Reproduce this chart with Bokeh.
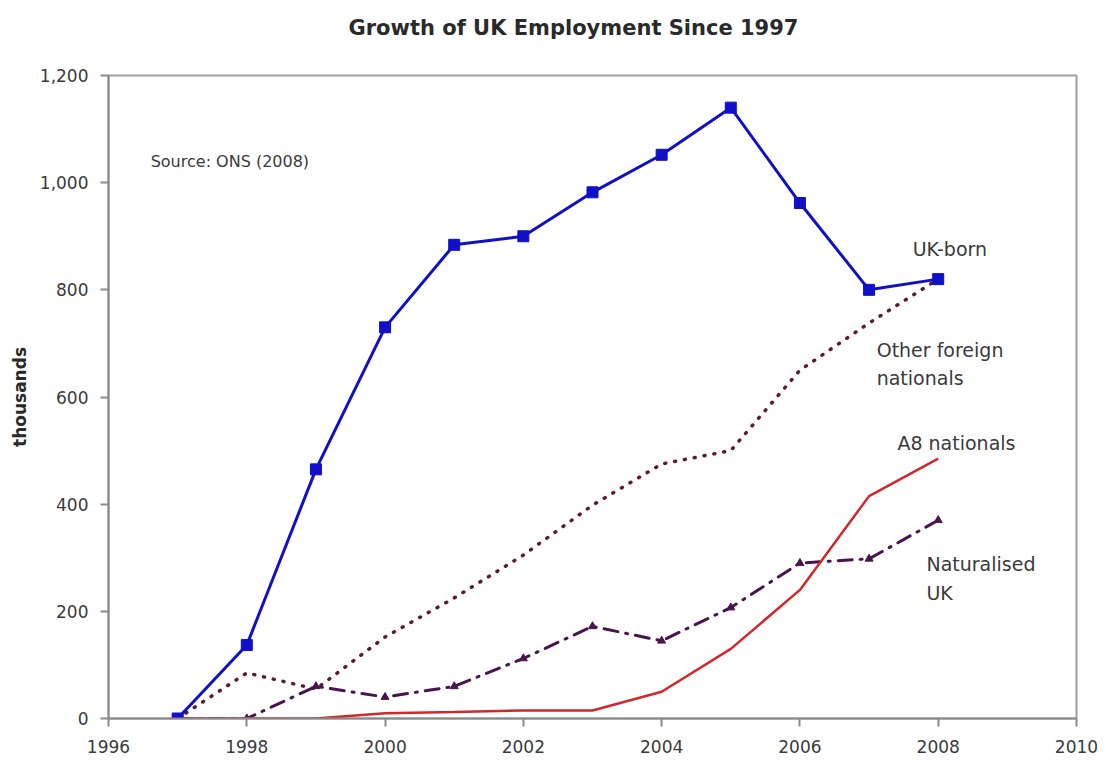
from bokeh.plotting import figure
from bokeh.models import Range1d, Label, FixedTicker, NumeralTickFormatter, Title
from bokeh.embed import file_html
from bokeh.resources import INLINE

years = [1997, 1998, 1999, 2000, 2001, 2002, 2003, 2004, 2005, 2006, 2007, 2008]
uk_born = [0, 137, 465, 730, 884, 900, 982, 1052, 1140, 962, 800, 820]
other_foreign = [0, 85, 55, 152, 225, 305, 398, 475, 500, 650, 738, 820]
a8_nationals = [0, 0, 0, 10, 12, 15, 15, 50, 130, 240, 415, 485]
naturalised_uk = [0, 0, 60, 40, 60, 112, 172, 145, 207, 290, 298, 370]

x_ticks = [1996, 1998, 2000, 2002, 2004, 2006, 2008, 2010]
y_ticks = [0, 200, 400, 600, 800, 1000, 1200]

FONT = "DejaVu Sans"

p = figure(width=1106, height=760, output_backend="svg", toolbar_location=None,
           x_range=Range1d(1996, 2010), y_range=Range1d(0, 1200),
           min_border_left=108, min_border_right=30, min_border_top=75,
           min_border_bottom=42)

# spacer between frame and title (empty text), then the title itself
spacer = Title(text=" ", text_font_size="20px", standoff=12)
p.add_layout(spacer, "above")
main_title = Title(text="Growth of UK Employment Since 1997", align="left",
                   offset=240, standoff=0, text_font=FONT,
                   text_font_size="21px", text_font_style="bold",
                   text_color="#2a2a2a")
p.add_layout(main_title, "above")

p.background_fill_color = "white"
p.border_fill_color = "white"
p.outline_line_color = "#a0a0a0"
p.outline_line_width = 2
p.xgrid.visible = False
p.ygrid.visible = False

for ax in (p.xaxis[0], p.yaxis[0]):
    ax.axis_line_color = "#8a8a8a"
    ax.axis_line_width = 2
    ax.major_tick_line_color = "#8a8a8a"
    ax.major_tick_line_width = 2
    ax.major_tick_out = 8
    ax.major_tick_in = 0
    ax.minor_tick_line_color = None
    ax.major_label_text_font = FONT
    ax.major_label_text_font_size = "17px"
    ax.major_label_text_color = "#3a3a3a"

p.xaxis[0].ticker = FixedTicker(ticks=x_ticks)
p.yaxis[0].ticker = FixedTicker(ticks=y_ticks)
p.yaxis[0].formatter = NumeralTickFormatter(format="0,0")
p.xaxis[0].major_label_standoff = 13
p.yaxis[0].major_label_standoff = 12
p.yaxis[0].axis_label = "thousands"
p.yaxis[0].axis_label_text_font = FONT
p.yaxis[0].axis_label_text_font_size = "17px"
p.yaxis[0].axis_label_text_font_style = "bold"
p.yaxis[0].axis_label_text_color = "#2a2a2a"
p.yaxis[0].axis_label_standoff = 7

# series
p.line(years, other_foreign, line_color="#5e1a2e", line_width=3.5,
       line_dash="1 9", line_cap="round")
p.line(years, naturalised_uk, line_color="#4a1450", line_width=3,
       line_dash="14 8 2 8", line_cap="round")
p.scatter(years, naturalised_uk, marker="triangle", size=8,
          fill_color="#4a1450", line_color="#4a1450")
p.line(years, a8_nationals, line_color="#d0282c", line_width=2.5)
p.line(years, uk_born, line_color="#1010c8", line_width=3)
p.scatter(years, uk_born, marker="square", size=11,
          fill_color="#1010c8", line_color="#1010c8")

def lab(x, y, text, size="19px", align="left", color="#3a3a3a"):
    p.add_layout(Label(x=x, y=y, text=text, text_font=FONT,
                       text_font_size=size, text_color=color,
                       text_align=align, text_baseline="middle"))

lab(1996.61, 1040, "Source: ONS (2008)", size="16px")
lab(2007.63, 877, "UK-born")
lab(2007.11, 687, "Other foreign")
lab(2007.11, 636, "nationals")
lab(2007.41, 515, "A8 nationals")
lab(2007.83, 289, "Naturalised")
lab(2007.83, 235, "UK")

open("out.html", "w").write(file_html(p, INLINE))
